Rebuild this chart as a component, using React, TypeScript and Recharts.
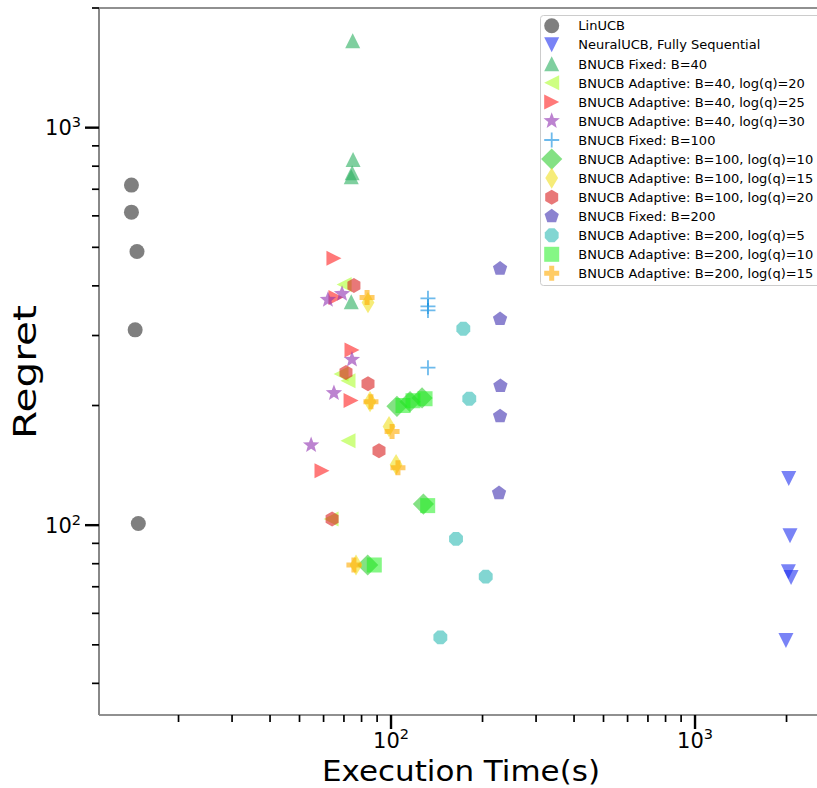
import React from "react";
import { ScatterChart, Scatter, XAxis, YAxis, ReferenceLine, Legend } from "recharts";

// [execution time (s), regret]
const linUCB = [[14.0, 717], [14.0, 613], [14.6, 488], [14.4, 310], [14.75, 101]];
const neuralUCB = [[2034, 131], [2053, 94], [2028, 76.4], [2070, 73.9], [1991, 51.3]];
const fixed40 = [[74.8, 1655], [75.0, 832], [74.5, 770], [74.0, 753], [74.0, 365]];
const adapt40q20 = [[70.1, 403], [68.5, 240], [72.2, 231], [72.2, 163], [63.5, 103.7]];
const adapt40q25 = [[64.9, 469], [65.9, 374], [74.4, 276], [73.9, 206], [59.3, 137]];
const adapt40q30 = [[62, 369], [69, 382], [74.4, 261], [64.9, 215], [54.6, 159]];
const fixed100 = [[132.3, 372], [132.3, 355], [132.3, 347], [132.3, 249]];
const adapt100q10 = [[104.6, 199], [115.5, 204.5], [126.5, 209], [127.8, 113], [83.8, 79.4]];
const adapt100q15 = [[84, 363], [85.3, 204.5], [98.5, 177], [103.9, 142], [76.7, 79.4]];
const adapt100q20 = [[75.5, 401], [71.1, 242], [84, 227], [91.3, 154], [64, 103.7]];
const fixed200 = [[228.4, 442], [228.4, 330], [229, 224], [228.4, 188], [226.6, 120.4]];
const adapt200q5 = [[172.9, 312], [180.9, 208], [163.6, 92.4], [204.9, 74.2], [145.3, 52.2]];
const adapt200q10 = [[109.5, 200], [118.1, 205.6], [129.4, 208], [132, 112], [88.1, 79.4]];
const adapt200q15 = [[83.4, 374], [85.9, 204.5], [100.8, 172], [105.4, 139.4], [75.5, 79.4]];

const xMajor = [100, 1000];
const xMinor = [20, 30, 40, 50, 60, 70, 80, 90, 200, 300, 400, 500, 600, 700, 800, 900, 2000];
const yMajor = [100, 1000];
const yMinor = [40, 50, 60, 70, 80, 90, 200, 300, 400, 500, 600, 700, 800, 900, 2000];

const series = [
  { name: "LinUCB", pts: linUCB, marker: "o", color: "#000000", a: 0.5 },
  { name: "NeuralUCB, Fully Sequential", pts: neuralUCB, marker: "v", color: "#2030f0", a: 0.6 },
  { name: "BNUCB Fixed: B=40", pts: fixed40, marker: "^", color: "#2aaf5f", a: 0.6 },
  { name: "BNUCB Adaptive: B=40, log(q)=20", pts: adapt40q20, marker: "<", color: "#adff2f", a: 0.6 },
  { name: "BNUCB Adaptive: B=40, log(q)=25", pts: adapt40q25, marker: ">", color: "#ff2020", a: 0.6 },
  { name: "BNUCB Adaptive: B=40, log(q)=30", pts: adapt40q30, marker: "*", color: "#9030b0", a: 0.6 },
  { name: "BNUCB Fixed: B=100", pts: fixed100, marker: "+", color: "#0c8ce0", a: 0.6 },
  { name: "BNUCB Adaptive: B=100, log(q)=10", pts: adapt100q10, marker: "D", color: "#32cd32", a: 0.6 },
  { name: "BNUCB Adaptive: B=100, log(q)=15", pts: adapt100q15, marker: "d", color: "#f0e020", a: 0.6 },
  { name: "BNUCB Adaptive: B=100, log(q)=20", pts: adapt100q20, marker: "h", color: "#d91e1e", a: 0.6 },
  { name: "BNUCB Fixed: B=200", pts: fixed200, marker: "p", color: "#4030b0", a: 0.6 },
  { name: "BNUCB Adaptive: B=200, log(q)=5", pts: adapt200q5, marker: "8", color: "#2ebbb4", a: 0.6 },
  { name: "BNUCB Adaptive: B=200, log(q)=10", pts: adapt200q10, marker: "s", color: "#20f020", a: 0.55 },
  { name: "BNUCB Adaptive: B=200, log(q)=15", pts: adapt200q15, marker: "P", color: "#ffaa00", a: 0.6 },
];

const FONT = "DejaVu Sans";
const R = 7.5;

const poly = (cx: number, cy: number, n: number, start: number, r = R) => {
  const p: string[] = [];
  for (let k = 0; k < n; k++) {
    const t = ((start + (k * 360) / n) * Math.PI) / 180;
    p.push(`${cx + r * Math.cos(t)},${cy + r * Math.sin(t)}`);
  }
  return p.join(" ");
};

const Marker = ({ kind, cx, cy, color, a }: any) => {
  const f = { fill: color, fillOpacity: a };
  switch (kind) {
    case "o":
      return <circle cx={cx} cy={cy} r={R} {...f} />;
    case "v":
      return <polygon points={`${cx},${cy + R} ${cx - R},${cy - R} ${cx + R},${cy - R}`} {...f} />;
    case "^":
      return <polygon points={`${cx},${cy - R} ${cx - R},${cy + R} ${cx + R},${cy + R}`} {...f} />;
    case "<":
      return <polygon points={`${cx - R},${cy} ${cx + R},${cy - R} ${cx + R},${cy + R}`} {...f} />;
    case ">":
      return <polygon points={`${cx + R},${cy} ${cx - R},${cy - R} ${cx - R},${cy + R}`} {...f} />;
    case "*": {
      const p: string[] = [];
      const ro = 8.6;
      for (let k = 0; k < 10; k++) {
        const r = k % 2 === 0 ? ro : ro * 0.42;
        const t = ((-90 + k * 36) * Math.PI) / 180;
        p.push(`${cx + r * Math.cos(t)},${cy + r * Math.sin(t)}`);
      }
      return <polygon points={p.join(" ")} {...f} />;
    }
    case "+":
      return (
        <path
          d={`M${cx - R},${cy}H${cx + R}M${cx},${cy - R}V${cy + R}`}
          stroke={color}
          strokeOpacity={a}
          strokeWidth={1.8}
          fill="none"
        />
      );
    case "D": {
      const h = 10.6;
      return <polygon points={`${cx},${cy - h} ${cx + h},${cy} ${cx},${cy + h} ${cx - h},${cy}`} {...f} />;
    }
    case "d": {
      const h = 10.6;
      const w = 6.4;
      return <polygon points={`${cx},${cy - h} ${cx + w},${cy} ${cx},${cy + h} ${cx - w},${cy}`} {...f} />;
    }
    case "h":
      return <polygon points={poly(cx, cy, 6, -90)} {...f} />;
    case "p":
      return <polygon points={poly(cx, cy, 5, -90)} {...f} />;
    case "8":
      return <polygon points={poly(cx, cy, 8, -67.5)} {...f} />;
    case "s":
      return <rect x={cx - R} y={cy - R} width={2 * R} height={2 * R} {...f} />;
    case "P": {
      const u = 2.5;
      const pts = [[-1, -3], [1, -3], [1, -1], [3, -1], [3, 1], [1, 1], [1, 3], [-1, 3], [-1, 1], [-3, 1], [-3, -1], [-1, -1]]
        .map(([px, py]) => `${cx + px * u},${cy + py * u}`)
        .join(" ");
      return <polygon points={pts} {...f} />;
    }
    default:
      return null;
  }
};

const XTick = ({ x, y, payload }: any) => {
  const major = xMajor.includes(payload.value);
  return (
    <g>
      <line x1={x} y1={y} x2={x} y2={y + (major ? 14 : 7)} stroke="#000" strokeWidth={major ? 2.4 : 1.7} />
      {major && (
        <text x={x} y={y + 33} textAnchor="middle" fontFamily={FONT} fontSize={21} fill="#000">
          10
          <tspan fontSize={14.5} dy={-9}>
            {Math.round(Math.log10(payload.value))}
          </tspan>
        </text>
      )}
    </g>
  );
};

const YTick = ({ x, y, payload }: any) => {
  const major = yMajor.includes(payload.value);
  return (
    <g>
      <line x1={x} y1={y} x2={x - (major ? 14 : 7)} y2={y} stroke="#000" strokeWidth={major ? 2.4 : 1.7} />
      {major && (
        <text x={x - 18} y={y + 7.5} textAnchor="end" fontFamily={FONT} fontSize={21} fill="#000">
          10
          <tspan fontSize={14.5} dy={-8}>
            {Math.round(Math.log10(payload.value))}
          </tspan>
        </text>
      )}
    </g>
  );
};

const LegendBox = () => (
  <svg width={290} height={272} style={{ display: "block" }}>
    <rect x={0.5} y={0.5} width={300} height={270} rx={3} fill="#fff" fillOpacity={0.8} stroke="#cccccc" />
    {series.map((s, i) => {
      const cy = 10.7 + i * 19.05;
      return (
        <g key={s.name}>
          <Marker kind={s.marker} cx={11.7} cy={cy} color={s.color} a={s.a} />
          <text x={38.3} y={cy + 4.7} fontFamily={FONT} fontSize={13} fill="#000">
            {s.name}
          </text>
        </g>
      );
    })}
  </svg>
);

export default function App() {
  return (
    <div style={{ position: "relative", width: 817, height: 788, overflow: "hidden", background: "#fff" }}>
      <style>{"body{margin:0}"}</style>
      <ScatterChart width={817} height={788} margin={{ top: 8, right: 0, bottom: 0, left: 0 }}>
        <XAxis
          type="number"
          dataKey="x"
          scale="log"
          domain={[10.95, 2519]}
          allowDataOverflow
          ticks={[...xMinor, ...xMajor].sort((a, b) => a - b)}
          tick={<XTick />}
          tickLine={false}
          tickSize={0}
          tickMargin={0}
          interval={0}
          height={73}
          axisLine={{ stroke: "#222", strokeWidth: 1.2 }}
        />
        <YAxis
          type="number"
          dataKey="y"
          scale="log"
          domain={[33.3, 2000]}
          allowDataOverflow
          ticks={[...yMinor, ...yMajor].sort((a, b) => a - b)}
          tick={<YTick />}
          tickLine={false}
          tickSize={0}
          tickMargin={0}
          interval={0}
          width={99}
          axisLine={{ stroke: "#888", strokeWidth: 2 }}
        />
        <ReferenceLine y={2000} stroke="#222" strokeWidth={1.2} ifOverflow="visible" />
        {series.map((s) => (
          <Scatter
            key={s.name}
            name={s.name}
            data={s.pts.map(([x, y]) => ({ x, y }))}
            isAnimationActive={false}
            shape={(p: any) => <Marker kind={s.marker} cx={p.cx} cy={p.cy} color={s.color} a={s.a} />}
          />
        ))}
        <Legend
          layout="vertical"
          align="center"
          verticalAlign="middle"
          wrapperStyle={{ left: 540, top: 15, width: 290, height: 272 }}
          content={<LegendBox />}
        />
      </ScatterChart>
      <svg width={817} height={788} style={{ position: "absolute", left: 0, top: 0, pointerEvents: "none" }}>
        <text
          x={461}
          y={781}
          textAnchor="middle"
          fontFamily={FONT}
          fontSize={29}
          textLength={278}
          lengthAdjust="spacingAndGlyphs"
          fill="#000"
        >
          Execution Time(s)
        </text>
        <text
          transform="translate(36,372) rotate(-90)"
          textAnchor="middle"
          fontFamily={FONT}
          fontSize={32}
          textLength={134}
          lengthAdjust="spacingAndGlyphs"
          fill="#000"
        >
          Regret
        </text>
      </svg>
    </div>
  );
}
